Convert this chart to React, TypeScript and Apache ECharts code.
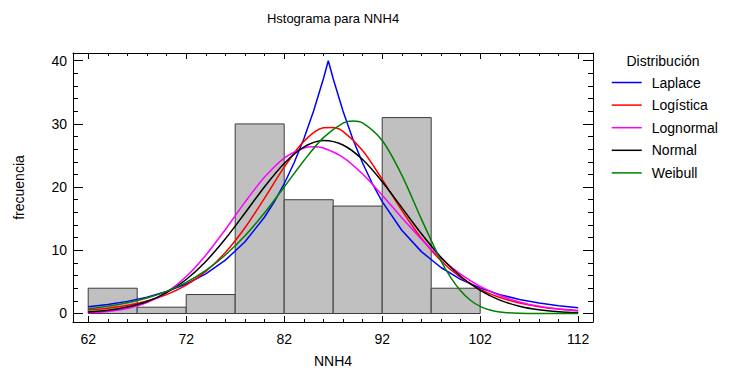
import React, { useEffect, useRef } from "react";
import * as echarts from "echarts";

// ---- data ----
const binEdges = [62, 67, 72, 77, 82, 87, 92, 97, 102];
const binCounts = [4, 1, 3, 30, 18, 17, 31, 4];

const xTickMajor = [62, 72, 82, 92, 102, 112];
const xTickMinor = [62, 64, 66, 68, 70, 72, 74, 76, 78, 80, 82, 84, 86, 88, 90, 92, 94, 96, 98, 100, 102, 104, 106, 108, 110, 112];
const yTickMajor = [0, 10, 20, 30, 40];
const yTickMinor = [0, 2, 4, 6, 8, 10, 12, 14, 16, 18, 20, 22, 24, 26, 28, 30, 32, 34, 36, 38, 40];

const laplaceX = [62, 64, 66, 68, 70, 72, 74, 76, 78, 80, 81, 82, 83, 84, 85, 86, 86.5, 87, 88, 89, 90, 91, 92, 94, 96, 98, 100, 102, 104, 106, 108, 110, 112];
const laplaceY = [1.06, 1.43, 1.92, 2.58, 3.47, 4.67, 6.28, 8.44, 11.35, 15.27, 17.71, 20.53, 23.82, 27.6, 32.03, 37.14, 40.0, 37.14, 32.03, 27.6, 23.82, 20.53, 17.71, 13.17, 9.79, 7.28, 5.41, 4.03, 2.99, 2.22, 1.65, 1.23, 0.92];

const logisticX = [62, 64, 66, 68, 70, 72, 74, 76, 78, 80, 82, 84, 86, 87, 88, 90, 92, 94, 96, 98, 100, 102, 104, 106, 108, 110, 112];
const logisticY = [0.54, 0.84, 1.29, 1.97, 2.99, 4.49, 6.66, 9.66, 13.57, 18.26, 23.15, 27.24, 29.38, 29.44, 28.82, 25.79, 21.23, 16.32, 11.9, 8.35, 5.7, 3.82, 2.53, 1.66, 1.08, 0.7, 0.46];

const lognormalX = [62, 64, 66, 68, 70, 72, 74, 76, 78, 80, 82, 84, 85, 86, 88, 90, 92, 94, 96, 98, 100, 102, 104, 106, 108, 110, 112];
const lognormalY = [0.11, 0.32, 0.8, 1.73, 3.36, 5.85, 9.23, 13.3, 17.62, 21.58, 24.59, 26.19, 26.39, 26.19, 24.71, 22.07, 18.73, 15.16, 11.74, 8.71, 6.22, 4.28, 2.85, 1.83, 1.15, 0.7, 0.41];

const normalX = [62, 64, 66, 68, 70, 72, 74, 76, 78, 80, 82, 84, 86, 88, 90, 92, 94, 96, 98, 100, 102, 104, 106, 108, 110, 112];
const normalY = [0.24, 0.51, 1.02, 1.89, 3.29, 5.38, 8.24, 11.82, 15.91, 20.07, 23.74, 26.32, 27.36, 26.66, 24.36, 20.86, 16.75, 12.61, 8.9, 5.89, 3.65, 2.12, 1.16, 0.59, 0.28, 0.13];

const weibullX = [62, 64, 66, 68, 70, 72, 74, 76, 78, 80, 82, 84, 86, 88, 89, 90, 92, 94, 96, 98, 99, 100, 101, 102, 103, 104, 106, 108, 110, 112];
const weibullY = [0.77, 1.15, 1.69, 2.45, 3.5, 4.92, 6.81, 9.26, 12.3, 15.94, 20.02, 24.18, 27.83, 30.12, 30.47, 30.16, 27.37, 21.9, 14.94, 8.33, 5.67, 3.59, 2.1, 1.12, 0.54, 0.23, 0.03, 0, 0, 0];

const seriesNames = ["Laplace", "Logística", "Lognormal", "Normal", "Weibull"];
const seriesColors = ["#0000FF", "#FF0000", "#FF00FF", "#000000", "#008000"];

const titleText = "Hstograma para NNH4";
const legendTitle = "Distribución";
const xName = "NNH4";
const yName = "frecuencia";

const FONT = '"Liberation Sans", Arial, sans-serif';
const X_MIN = 60.45;
const X_MAX = 113.51;
const Y_MIN = -1.345;
const Y_MAX = 41.22;

function xAxis(position: string, ticks: number[], len: number, withLabels: boolean, withLine: boolean, extra: any = {}) {
  return {
    type: "value",
    gridIndex: 0,
    position,
    min: X_MIN,
    max: X_MAX,
    axisLine: { show: withLine, onZero: false, lineStyle: { color: "#000", width: 1 } },
    axisTick: { show: true, inside: true, length: len, customValues: ticks, lineStyle: { color: "#000", width: 1 } },
    axisLabel: withLabels
      ? { show: true, customValues: ticks, margin: 10, fontSize: 14, color: "#000", fontFamily: FONT }
      : { show: false },
    splitLine: { show: false },
    ...extra,
  };
}

function yAxis(position: string, ticks: number[], len: number, withLabels: boolean, withLine: boolean, extra: any = {}) {
  return {
    type: "value",
    gridIndex: 0,
    position,
    min: Y_MIN,
    max: Y_MAX,
    axisLine: { show: withLine, onZero: false, lineStyle: { color: "#000", width: 1 } },
    axisTick: { show: true, inside: true, length: len, customValues: ticks, lineStyle: { color: "#000", width: 1 } },
    axisLabel: withLabels
      ? { show: true, customValues: ticks, margin: 6, fontSize: 14, color: "#000", fontFamily: FONT }
      : { show: false },
    splitLine: { show: false },
    ...extra,
  };
}

export default function App() {
  const ref = useRef<HTMLDivElement>(null);
  useEffect(() => {
    if (!ref.current) return;
    const chart = echarts.init(ref.current, null, { renderer: "svg" });
    const xs = [laplaceX, logisticX, lognormalX, normalX, weibullX];
    const ys = [laplaceY, logisticY, lognormalY, normalY, weibullY];
    const lineSeries = seriesNames.map((name, k) => ({
      type: "line",
      name,
      xAxisIndex: 0,
      yAxisIndex: 0,
      data: xs[k].map((x, i) => [x, ys[k][i]]),
      symbol: "none",
      smooth: k === 0 ? false : 0.3,
      lineStyle: { color: seriesColors[k], width: 1.5 },
      itemStyle: { color: seriesColors[k] },
      z: 3,
    }));
    const option: any = {
      animation: false,
      backgroundColor: "#fff",
      textStyle: { fontFamily: FONT },
      grid: { left: 73, top: 53, width: 520, height: 269, containLabel: false },
      graphic: [
        {
          type: "text",
          x: 333,
          y: 18,
          style: { text: titleText, fill: "#000", font: `13px ${FONT}`, textAlign: "center", textVerticalAlign: "middle" },
        },
        {
          type: "text",
          x: 663,
          y: 61,
          style: { text: legendTitle, fill: "#000", font: `14px ${FONT}`, textAlign: "center", textVerticalAlign: "middle" },
        },
      ],
      legend: {
        data: seriesNames,
        orient: "vertical",
        left: 611,
        top: 75.5,
        padding: 0,
        itemWidth: 30,
        itemHeight: 14,
        itemGap: 8.6,
        selectedMode: false,
        itemStyle: { opacity: 0, borderWidth: 0 },
        lineStyle: { width: 1.5 },
        textStyle: { fontSize: 14, color: "#000", fontFamily: FONT, padding: [0, 0, 0, 5] },
      },
      xAxis: [
        xAxis("bottom", xTickMajor, 6, true, true, {
          name: xName,
          nameLocation: "middle",
          nameGap: 32,
          nameTextStyle: { fontSize: 14, color: "#000", fontFamily: FONT },
        }),
        xAxis("bottom", xTickMinor, 3, false, false),
        xAxis("top", xTickMajor, 6, false, true),
        xAxis("top", xTickMinor, 3, false, false),
      ],
      yAxis: [
        yAxis("left", yTickMajor, 10, true, true, {
          name: yName,
          nameLocation: "middle",
          nameGap: 47,
          nameRotate: 90,
          nameTextStyle: { fontSize: 14, color: "#000", fontFamily: FONT },
        }),
        yAxis("left", yTickMinor, 5, false, false),
        yAxis("right", yTickMajor, 10, false, true),
        yAxis("right", yTickMinor, 5, false, false),
      ],
      series: [
        {
          type: "custom",
          name: "hist",
          xAxisIndex: 0,
          yAxisIndex: 0,
          data: binCounts.map((c, i) => [binEdges[i], binEdges[i + 1], c]),
          encode: { x: [0, 1], y: 2 },
          z: 2,
          renderItem: (params: any, api: any) => {
            const p0 = api.coord([api.value(0), api.value(2)]);
            const p1 = api.coord([api.value(1), 0]);
            return {
              type: "rect",
              shape: { x: p0[0], y: p0[1], width: p1[0] - p0[0], height: p1[1] - p0[1] },
              style: { fill: "#C0C0C0", stroke: "#3c3c3c", lineWidth: 1 },
            };
          },
        },
        ...lineSeries,
      ],
    };
    chart.setOption(option);
    return () => chart.dispose();
  }, []);
  return (
    <div
      ref={ref}
      style={{ position: "fixed", left: 0, top: 0, width: 730, height: 375, background: "#fff" }}
    />
  );
}
